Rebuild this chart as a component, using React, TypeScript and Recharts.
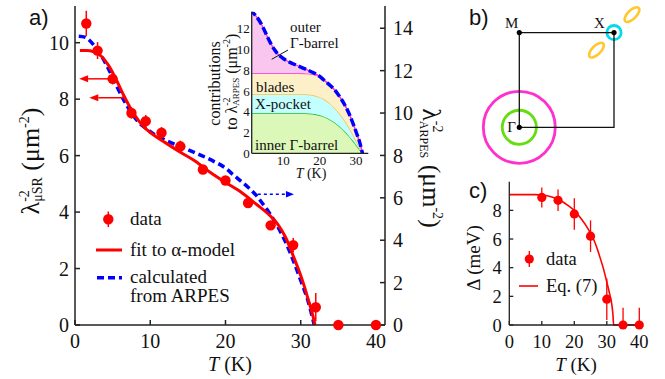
import React from 'react';
import { ComposedChart, ScatterChart, Scatter, Line, Area, XAxis, YAxis, ErrorBar, ReferenceLine } from 'recharts';

const SERIF = 'Liberation Serif, Times New Roman, serif';
const SANS = 'Liberation Sans, Arial, sans-serif';

// ---------- panel a: muSR superfluid density ----------
const muT = [1.5, 3, 5, 7.5, 9.4, 11.5, 14, 17, 20, 23, 26, 29, 32, 35, 40];
const muLambda = [10.68, 9.72, 8.72, 7.51, 7.22, 6.81, 6.33, 5.51, 5.12, 4.32, 3.53, 2.83, 0.63, 0, 0];
const muErr = [0.45, 0.3, 0.2, 0.2, 0.22, 0.2, 0.2, 0.15, 0.15, 0.15, 0.15, 0.25, 0.5, 0, 0];

// fit to alpha-model
const fitT = [0.65, 1.5, 2.5, 3.5, 4.5, 5.5, 6.5, 7.5, 8.5, 9.5, 10.5, 12, 14, 16, 18, 20, 22, 24, 26, 27, 28, 29, 30, 30.5, 31, 31.5, 31.9];
const fitLambda = [9.72, 9.72, 9.68, 9.52, 9.18, 8.68, 8.12, 7.62, 7.22, 6.93, 6.72, 6.46, 6.12, 5.8, 5.4, 5.05, 4.72, 4.3, 3.85, 3.55, 3.1, 2.45, 1.75, 1.35, 0.9, 0.45, 0];

// ARPES contributions (um^-2)
const arpesT = [0.5, 1.3, 2.5, 3.5, 4.5, 5.5, 6.5, 7.5, 8.5, 9.5, 10.5, 12, 14, 16, 18, 20, 21, 22, 23, 24, 25, 26, 27, 28, 29, 30, 31, 31.8];
const innerGamma = [3.85, 3.85, 3.85, 3.85, 3.85, 3.85, 3.85, 3.85, 3.85, 3.85, 3.85, 3.85, 3.85, 3.85, 3.8, 3.66, 3.55, 3.4, 3.2, 2.98, 2.72, 2.42, 2.08, 1.7, 1.28, 0.82, 0.35, 0];
const xPocket = [1.82, 1.82, 1.82, 1.82, 1.82, 1.82, 1.82, 1.82, 1.82, 1.82, 1.82, 1.82, 1.82, 1.82, 1.8, 1.74, 1.69, 1.62, 1.53, 1.42, 1.3, 1.16, 1.0, 0.82, 0.62, 0.4, 0.17, 0];
const bladesC = [2.03, 2.03, 2.03, 2.03, 2.03, 2.03, 2.03, 2.03, 2.03, 2.03, 2.03, 2.03, 2.03, 2.0, 2.0, 2.0, 1.86, 1.78, 1.77, 1.75, 1.68, 1.62, 1.52, 1.38, 1.15, 0.88, 0.58, 0];
const outerGamma = [5.92, 5.88, 5.5, 5.0, 4.35, 3.6, 2.9, 2.3, 1.85, 1.55, 1.3, 1.02, 0.72, 0.45, 0.2, 0, 0, 0, 0, 0, 0, 0, 0, 0, 0, 0, 0, 0];

// annotation arrows
const muArrows = [
  { y: 8.72, from: 5.0, to: 0.55 },
  { y: 8.05, from: 6.65, to: 1.9 },
];
const arpesArrow = { y: 6.17, from: 24.3, to: 29.1 };

// ---------- panel b: Brillouin zone ----------
const bzPath = [{ kx: 0, ky: 0 }, { kx: 1, ky: 0 }, { kx: 1, ky: 1 }, { kx: 0, ky: 1 }, { kx: 0, ky: 0 }];
const highSym = [{ kx: 0, ky: 0, label: 'Γ' }, { kx: 0, ky: 1, label: 'M' }, { kx: 1, ky: 1, label: 'X' }];
const fsRings = [
  { kx: 0, ky: 0, kF: 0.38, band: 'outer' },
  { kx: 0, ky: 0, kF: 0.18, band: 'inner' },
  { kx: 1, ky: 1, kF: 0.075, band: 'xpocket' },
];
const fsBlades = [{ kx: 0.815, ky: 0.815 }, { kx: 1.19, ky: 1.19 }];
const bladeSemiAxes = [0.1, 0.046];

// ---------- panel c: gap ----------
const gapT = [10, 15, 20, 25, 30, 35, 40];
const gapDelta = [8.9, 8.7, 7.75, 6.2, 1.8, 0, 0];
const gapErr = [[0.7, 0.7], [0.75, 0.75], [1.1, 1.1], [1.1, 1.1], [1.45, 1.45], [0, 1.2], [0, 1.2]];
const eqT = [0, 5, 8, 10, 12, 14, 16, 18, 20, 22, 24, 25, 26, 27, 28, 29, 30, 31, 31.5, 31.9, 32.1, 36, 40];
const eqDelta = [9.1, 9.1, 9.1, 9.07, 9.0, 8.87, 8.65, 8.35, 7.98, 7.45, 6.8, 6.4, 5.95, 5.35, 4.65, 3.9, 3.0, 2.05, 1.5, 0.7, 0, 0, 0];

// ---------- tables ----------
const muData = muT.map((T, i) => ({ T, v: muLambda[i], err: muErr[i] }));
const fitData = fitT.map((T, i) => ({ T, v: fitLambda[i] }));
const arpesData = arpesT.map((T, i) => ({
  T,
  inner: innerGamma[i],
  xp: xPocket[i],
  bl: bladesC[i],
  outer: outerGamma[i],
  total: +(innerGamma[i] + xPocket[i] + bladesC[i] + outerGamma[i]).toFixed(3),
}));
const gapData = gapT.map((T, i) => ({ T, d: gapDelta[i], err: gapErr[i] }));
const eqData = eqT.map((T, i) => ({ T, d: eqDelta[i] }));

// ---------- styles ----------
const RED = '#ff0000';
const BLUE = '#0000ff';
const AX = { stroke: '#222', strokeWidth: 1.5 };
const AXC = { stroke: '#222', strokeWidth: 1.3 };
const PX_PER_K = 94.7;
const FS_COLORS: Record<string, string> = { outer: '#ff30cc', inner: '#66dd10', xpocket: '#00dcee' };
const LABEL_OFF: Record<string, [number, number]> = { 'Γ': [-7.6, 5], M: [-7.6, -4.5], X: [-14.7, -4.5] };

const mkTick = (anchor: string, dy: string, size: number) => (p: any) => (
  <text x={p.x} y={p.y} dy={dy} textAnchor={anchor} fontFamily={SERIF} fontSize={size} fill="#111">
    {p.payload.value}
  </text>
);

const makeArrow = (color: string, dash: string | undefined, w: number, head: number, hw: number) => (p: any) => {
  const { x1, y1, x2, y2 } = p;
  const dx = x2 - x1, dy = y2 - y1;
  const len = Math.hypot(dx, dy) || 1;
  const ux = dx / len, uy = dy / len;
  const bx = x2 - ux * head, by = y2 - uy * head;
  return (
    <g>
      <line x1={x1} y1={y1} x2={bx} y2={by} stroke={color} strokeWidth={w} strokeDasharray={dash} />
      <polygon points={`${x2},${y2} ${bx - uy * hw},${by + ux * hw} ${bx + uy * hw},${by - ux * hw}`} fill={color} />
    </g>
  );
};

const dotShape = (r: number) => (p: any) => <circle cx={p.cx} cy={p.cy} r={r} fill={RED} />;

const ringShape = (p: any) => (
  <circle cx={p.cx} cy={p.cy} r={p.payload.kF * PX_PER_K} fill="none" stroke={FS_COLORS[p.payload.band]} strokeWidth={2.8} />
);
const bladeShape = (p: any) => (
  <ellipse cx={p.cx} cy={p.cy} rx={bladeSemiAxes[0] * PX_PER_K} ry={bladeSemiAxes[1] * PX_PER_K}
    transform={`rotate(-45 ${p.cx} ${p.cy})`} fill="none" stroke="#ffc830" strokeWidth={2.6} />
);
const symShape = (p: any) => {
  const off = LABEL_OFF[p.payload.label] || [0, 0];
  return (
    <g>
      <circle cx={p.cx} cy={p.cy} r={2.6} fill="#000" />
      <text x={p.cx + off[0]} y={p.cy + off[1]} textAnchor="middle" fontFamily={SERIF} fontSize={15} fill="#111">{p.payload.label}</text>
    </g>
  );
};

export default function App() {
  return (
    <div style={{ position: 'absolute', left: 0, top: 0, width: 665, height: 379, background: '#fff', overflow: 'hidden', fontFamily: SERIF }}>
      {/* panel a */}
      <div style={{ position: 'absolute', left: 0, top: 0 }}>
        <ComposedChart width={665} height={379} margin={{ top: 6, right: 240, bottom: 24, left: 35 }}>
          <XAxis xAxisId="b" type="number" dataKey="T" domain={[0, 41.2]} ticks={[0, 10, 20, 30, 40]} interval={0}
            height={30} tickSize={-5} tickMargin={14} axisLine={AX} tickLine={AX} tick={mkTick('middle', '0.71em', 20)} />
          <XAxis xAxisId="t" orientation="top" type="number" domain={[0, 41.2]} ticks={[10, 20, 30, 40]} interval={0}
            height={0} tickSize={-5} tick={false} axisLine={AX} tickLine={AX} />
          <YAxis yAxisId="l" type="number" domain={[0, 11.3]} ticks={[0, 2, 4, 6, 8, 10]} interval={0}
            width={40} tickSize={-5} tickMargin={11} axisLine={AX} tickLine={AX} tick={mkTick('end', '0.36em', 20)} />
          <YAxis yAxisId="r" orientation="right" type="number" domain={[0, 15.05]} ticks={[0, 2, 4, 6, 8, 10, 12, 14]} interval={0}
            width={40} tickSize={-5} tickMargin={13} axisLine={AX} tickLine={AX} tick={mkTick('start', '0.36em', 20)} />
          <Line xAxisId="b" yAxisId="r" data={arpesData} dataKey="total" type="monotone" stroke={BLUE} strokeWidth={3.5}
            strokeDasharray="7 4" dot={false} activeDot={false} isAnimationActive={false} />
          <Line xAxisId="b" yAxisId="l" data={fitData} dataKey="v" type="monotone" stroke={RED} strokeWidth={3}
            dot={false} activeDot={false} isAnimationActive={false} />
          <Scatter xAxisId="b" yAxisId="l" data={muData} dataKey="v" shape={dotShape(5.2)} isAnimationActive={false}>
            <ErrorBar dataKey="err" direction="y" width={0} stroke={RED} strokeWidth={1.5} isAnimationActive={false} />
          </Scatter>
          {muArrows.map((a, i) => (
            <ReferenceLine key={i} xAxisId="b" yAxisId="l" ifOverflow="visible"
              segment={[{ x: a.from, y: a.y }, { x: a.to, y: a.y }]} shape={makeArrow(RED, undefined, 1.5, 9, 3.5)} />
          ))}
          <ReferenceLine xAxisId="b" yAxisId="r" ifOverflow="visible"
            segment={[{ x: arpesArrow.from, y: arpesArrow.y }, { x: arpesArrow.to, y: arpesArrow.y }]}
            shape={makeArrow(BLUE, '3 3', 1.5, 8, 3.2)} />
        </ComposedChart>
      </div>

      {/* inset */}
      <div style={{ position: 'absolute', left: 190, top: 0 }}>
        <ComposedChart width={190} height={180} data={arpesData} margin={{ top: 11.7, right: 11.7, bottom: 0, left: 21.7 }}>
          <XAxis type="number" dataKey="T" domain={[1.3, 33.4]} allowDataOverflow ticks={[10, 20, 30]} interval={0}
            height={26.7} tickSize={0} tickMargin={2} axisLine={AXC} tickLine={false} tick={mkTick('middle', '0.71em', 13)} />
          <YAxis type="number" domain={[0, 13.62]} allowDataOverflow ticks={[0, 2, 4, 6, 8, 10, 12]} interval={0}
            width={40} tickSize={0} tickMargin={2} axisLine={AXC} tickLine={false} tick={mkTick('end', '0.36em', 13)} />
          <Area dataKey="inner" stackId="s" type="monotone" fill="#dcf8b8" fillOpacity={1} stroke="#1fbb30" strokeWidth={1.3} dot={false} activeDot={false} isAnimationActive={false} />
          <Area dataKey="xp" stackId="s" type="monotone" fill="#c4ffff" fillOpacity={1} stroke="#f2c24a" strokeWidth={1.3} dot={false} activeDot={false} isAnimationActive={false} />
          <Area dataKey="bl" stackId="s" type="monotone" fill="#fdf0c8" fillOpacity={1} stroke="#ff33cc" strokeWidth={1.3} dot={false} activeDot={false} isAnimationActive={false} />
          <Area dataKey="outer" stackId="s" type="monotone" fill="#f9c6ef" fillOpacity={1} stroke="#ff33cc" strokeWidth={1.3} dot={false} activeDot={false} isAnimationActive={false} />
          <Line dataKey="total" type="monotone" stroke={BLUE} strokeWidth={3.5} strokeDasharray="8 3" dot={false} activeDot={false} isAnimationActive={false} />
        </ComposedChart>
      </div>

      {/* panel b */}
      <div style={{ position: 'absolute', left: 440, top: 0 }}>
        <ScatterChart width={225} height={170} margin={{ top: 0, right: 0, bottom: 0, left: 0 }}>
          <XAxis type="number" dataKey="kx" domain={[-0.8374, 1.5385]} hide />
          <YAxis type="number" dataKey="ky" domain={[-0.4509, 1.3443]} hide />
          <Scatter data={fsRings} shape={ringShape} isAnimationActive={false} />
          <Scatter data={fsBlades} shape={bladeShape} isAnimationActive={false} />
          <Scatter data={bzPath} line={{ stroke: '#111', strokeWidth: 1.3 }} lineType="joint" shape={() => <g />} isAnimationActive={false} />
          <Scatter data={highSym} shape={symShape} isAnimationActive={false} />
        </ScatterChart>
      </div>

      {/* panel c */}
      <div style={{ position: 'absolute', left: 440, top: 160 }}>
        <ComposedChart width={225} height={219} margin={{ top: 21.7, right: 25.7, bottom: 24, left: 29.3 }}>
          <XAxis xAxisId="b" type="number" dataKey="T" domain={[0, 40]} ticks={[0, 10, 20, 30, 40]} interval={0}
            height={30} tickSize={-4} tickMargin={14} axisLine={AXC} tickLine={AXC} tick={mkTick('middle', '0.71em', 18.5)} />
          <XAxis xAxisId="t" orientation="top" type="number" domain={[0, 40]} ticks={[10, 20, 30]} interval={0}
            height={0} tickSize={0} tick={false} axisLine={AXC} tickLine={false} />
          <YAxis yAxisId="l" type="number" domain={[0, 10]} ticks={[0, 2, 4, 6, 8]} interval={0}
            width={40} tickSize={-4} tickMargin={11.6} axisLine={AXC} tickLine={AXC} tick={mkTick('end', '0.36em', 18.5)} />
          <YAxis yAxisId="r" orientation="right" type="number" domain={[0, 10]} ticks={[2, 4, 6, 8]} interval={0}
            width={0} tickSize={-4} tick={false} axisLine={AXC} tickLine={AXC} />
          <Line xAxisId="b" yAxisId="l" data={eqData} dataKey="d" type="monotone" stroke={RED} strokeWidth={1.6}
            dot={false} activeDot={false} isAnimationActive={false} />
          <Scatter xAxisId="b" yAxisId="l" data={gapData} dataKey="d" shape={dotShape(4.6)} isAnimationActive={false}>
            <ErrorBar dataKey="err" direction="y" width={0} stroke={RED} strokeWidth={1.3} isAnimationActive={false} />
          </Scatter>
        </ComposedChart>
      </div>

      {/* text overlay */}
      <svg style={{ position: 'absolute', left: 0, top: 0, pointerEvents: 'none' }} width={665} height={379}>
        <text x={29} y={25} fontFamily={SANS} fontSize={22} fill="#111">a)</text>
        <text x={469} y={25} fontFamily={SANS} fontSize={22} fill="#111">b)</text>
        <text x={469} y={198} fontFamily={SANS} fontSize={22} fill="#111">c)</text>

        {/* main axis titles */}
        <g transform="translate(39,161) rotate(-90)">
          <text textAnchor="middle" fontFamily={SERIF} fontSize={26} fill="#111">
            λ<tspan fontSize={14} dy={-10}>-2</tspan><tspan fontSize={14} dx={-11.7} dy={13}>μSR</tspan>
            <tspan dy={-3}>{'\u00a0(μm'}</tspan><tspan fontSize={14} dy={-10}>-2</tspan><tspan dy={10}>)</tspan>
          </text>
        </g>
        <g transform="translate(423,168) rotate(90)">
          <text textAnchor="middle" fontFamily={SERIF} fontSize={26} fill="#111">
            λ<tspan fontSize={14} dy={-10}>-2</tspan><tspan fontSize={12} dx={-11.7} dy={13}>ARPES</tspan>
            <tspan dy={-3}>{'\u00a0(μm'}</tspan><tspan fontSize={14} dy={-10}>-2</tspan><tspan dy={10}>)</tspan>
          </text>
        </g>
        <text x={230} y={371} textAnchor="middle" fontFamily={SERIF} fontSize={20} fill="#111">
          <tspan fontStyle="italic">T</tspan> (K)
        </text>

        {/* main legend */}
        <line x1={108.3} y1={211.5} x2={108.3} y2={227} stroke={RED} strokeWidth={1.5} />
        <circle cx={108.3} cy={219.3} r={5.2} fill={RED} />
        <text x={130} y={225} fontFamily={SERIF} fontSize={19} fill="#111">data</text>
        <line x1={96} y1={250} x2={122} y2={250} stroke={RED} strokeWidth={3} />
        <text x={130} y={256} fontFamily={SERIF} fontSize={19} fill="#111">fit to α-model</text>
        <line x1={97} y1={277.7} x2={122} y2={277.7} stroke={BLUE} strokeWidth={3.5} strokeDasharray="7 4" />
        <text x={130} y={283} fontFamily={SERIF} fontSize={19} fill="#111">calculated</text>
        <text x={130} y={302} fontFamily={SERIF} fontSize={19} fill="#111">from ARPES</text>

        {/* inset labels */}
        <g transform="translate(220,83.5) rotate(-90)">
          <text textAnchor="middle" fontFamily={SERIF} fontSize={16} fill="#111">contributions</text>
        </g>
        <g transform="translate(237,130) rotate(-90)">
          <text textAnchor="start" fontFamily={SERIF} fontSize={16} fill="#111">
            to λ<tspan fontSize={10} dy={-7}>-2</tspan><tspan fontSize={9} dx={-8.3} dy={9}>ARPES</tspan>
            <tspan dy={-2}>{'\u00a0(μm'}</tspan><tspan fontSize={10} dy={-7}>-2</tspan><tspan dy={7}>)</tspan>
          </text>
        </g>
        <text x={311} y={178} textAnchor="middle" fontFamily={SERIF} fontSize={14} fill="#111">
          <tspan fontStyle="italic">T</tspan> (K)
        </text>
        <text x={290} y={31.5} fontFamily={SERIF} fontSize={15} fill="#111">outer</text>
        <text x={290} y={48} fontFamily={SERIF} fontSize={15} fill="#111">Γ-barrel</text>
        <line x1={271.7} y1={59.3} x2={288} y2={50} stroke="#111" strokeWidth={1} />
        <text x={256} y={91.5} fontFamily={SERIF} fontSize={15} fill="#111">blades</text>
        <text x={255} y={108.5} fontFamily={SERIF} fontSize={15} fill="#111">X-pocket</text>
        <text x={255} y={149.5} fontFamily={SERIF} fontSize={15} fill="#111">inner Γ-barrel</text>

        {/* panel c titles and legend */}
        <g transform="translate(480,258) rotate(-90)">
          <text textAnchor="middle" fontFamily={SERIF} fontSize={19} fill="#111">Δ (meV)</text>
        </g>
        <text x={576} y={371} textAnchor="middle" fontFamily={SERIF} fontSize={19} fill="#111">
          <tspan fontStyle="italic">T</tspan> (K)
        </text>
        <line x1={529.3} y1={251} x2={529.3} y2={267} stroke={RED} strokeWidth={1.3} />
        <circle cx={529.3} cy={259} r={4.6} fill={RED} />
        <text x={546} y={265} fontFamily={SERIF} fontSize={18.5} fill="#111">data</text>
        <line x1={519} y1={286} x2={538} y2={286} stroke={RED} strokeWidth={1.6} />
        <text x={546} y={292} fontFamily={SERIF} fontSize={18.5} fill="#111">Eq. (7)</text>
      </svg>
    </div>
  );
}
